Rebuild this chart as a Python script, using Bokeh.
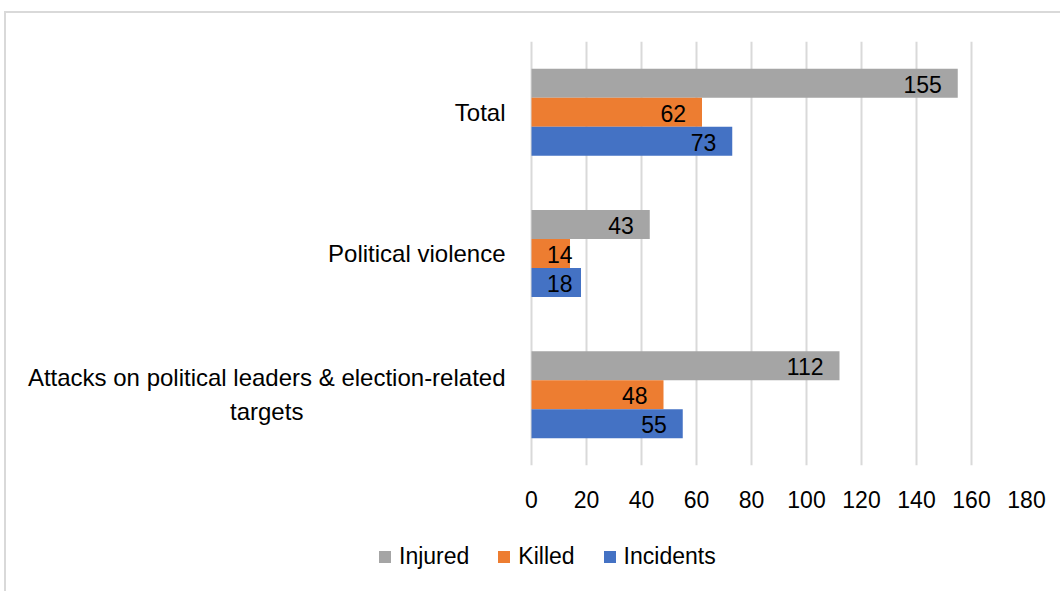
from bokeh.plotting import figure
from bokeh.layouts import column
from bokeh.models import FactorRange, ColumnDataSource, Legend, LegendItem
from bokeh.transform import dodge
from bokeh.core.properties import value
from bokeh.embed import file_html
from bokeh.resources import INLINE

categories = ["Attacks on political leaders & election-related\ntargets", "Political violence", "Total"]
injured = [112, 43, 155]
killed = [48, 14, 62]
incidents = [55, 18, 73]
series_names = ["Injured", "Killed", "Incidents"]
series_colors = ["#A5A5A5", "#ED7D31", "#4472C4"]
x_ticks = [0, 20, 40, 60, 80, 100, 120, 140, 160, 180]

FONT = "Liberation Sans"
PX_PER_UNIT = 2.75          # 495 px frame span for 0..180
FRAME_LEFT_PX = 511         # space left of the 0 line used for category labels

def label_pos(vals):
    # Excel-style "inside end" label, kept from sliding past the bar start
    return [max(v - 16 / PX_PER_UNIT, 41 / PX_PER_UNIT) for v in vals]

src = ColumnDataSource(dict(
    cat=categories, Injured=injured, Killed=killed, Incidents=incidents,
    Injured_t=[str(v) for v in injured], Killed_t=[str(v) for v in killed],
    Incidents_t=[str(v) for v in incidents],
    Injured_x=label_pos(injured), Killed_x=label_pos(killed), Incidents_x=label_pos(incidents),
    zero=[0] * len(categories)))

p = figure(width=1054, height=512, y_range=FactorRange(factors=categories),
           x_range=(-FRAME_LEFT_PX / PX_PER_UNIT, 180), output_backend="svg", toolbar_location=None,
           min_border_left=14, min_border_top=28, min_border_right=34, min_border_bottom=60)

bh = 0.205
offsets = [bh, 0.0, -bh]
for name, col, off in zip(series_names, series_colors, offsets):
    p.hbar(y=dodge("cat", off, range=p.y_range), left=0, right=name, height=bh,
           source=src, fill_color=col, line_color=None)
    p.text(x=name + "_x", y=dodge("cat", off, range=p.y_range), text=name + "_t", source=src,
           text_align="right", text_baseline="middle", y_offset=1,
           text_font=value(FONT), text_font_size="23px", text_color="#000000")

# category labels (left of the value axis)
p.text(x="zero", y="cat", text="cat", source=src, x_offset=-26,
       text_align="center", anchor="center_right", text_baseline="middle",
       text_line_height=1.25,
       text_font=value(FONT), text_font_size="24px", text_color="#000000")

p.outline_line_color = None
p.background_fill_color = "white"
p.border_fill_color = "white"

p.yaxis.visible = False
p.xaxis.ticker = x_ticks
p.xaxis.axis_line_color = None
p.xaxis.major_tick_line_color = None
p.xaxis.minor_tick_line_color = None
p.xaxis.major_tick_out = 0
p.xaxis.major_tick_in = 0
p.xaxis.major_label_standoff = 25
p.xaxis.major_label_text_font = FONT
p.xaxis.major_label_text_font_size = "23px"
p.xaxis.major_label_text_color = "#000000"

p.xgrid.grid_line_color = "#d9d9d9"
p.xgrid.grid_line_width = 2
p.xgrid.ticker = x_ticks
p.ygrid.grid_line_color = None

# legend strip (proxy renderers are hidden; they only supply the legend swatches)
p2 = figure(width=1054, height=66, x_range=(0, 1), y_range=(0, 1), output_backend="svg",
            toolbar_location=None, min_border=0)
p2.axis.visible = False
p2.grid.visible = False
p2.outline_line_color = None
p2.border_fill_color = "white"
proxies = [p2.hbar(y="zero", left="zero", right=n, height=1, source=src,
                   fill_color=c, line_color=None, visible=False)
           for n, c in zip(series_names, series_colors)]
legend = Legend(items=[LegendItem(label=n, renderers=[r]) for n, r in zip(series_names, proxies)],
                orientation="horizontal", location=(357, 21),
                label_text_font=FONT, label_text_font_size="23px", label_text_color="#000000",
                glyph_width=15, glyph_height=15, spacing=27, label_standoff=7,
                background_fill_alpha=0, border_line_color=None, padding=0, margin=0)
p2.add_layout(legend, "center")

layout = column(p, p2, spacing=0)
layout.margin = (11, 0, 0, 4)
layout.styles = {"border-top": "2px solid #d9d9d9", "border-left": "2px solid #d9d9d9"}

open("out.html", "w").write(file_html(layout, INLINE))
